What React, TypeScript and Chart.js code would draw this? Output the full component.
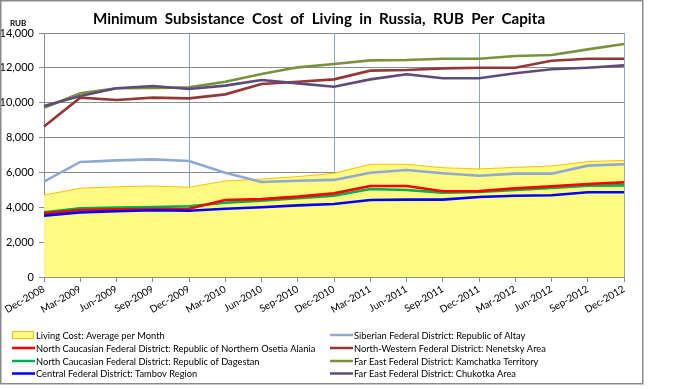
import React, { useEffect, useRef } from "react";
import { Chart, registerables } from "chart.js";

Chart.register(...registerables);

const categories = [
  "Dec-2008", "Mar-2009", "Jun-2009", "Sep-2009", "Dec-2009", "Mar-2010", "Jun-2010", "Sep-2010",
  "Dec-2010", "Mar-2011", "Jun-2011", "Sep-2011", "Dec-2011", "Mar-2012", "Jun-2012", "Sep-2012", "Dec-2012",
];

const livingCost = [4700, 5090, 5180, 5220, 5150, 5510, 5620, 5760, 5950, 6470, 6470, 6270, 6200, 6290, 6370, 6620, 6690];
const altay = [5470, 6600, 6690, 6750, 6660, 5980, 5450, 5520, 5570, 5980, 6140, 5950, 5810, 5930, 5930, 6390, 6470];
const osetia = [3650, 3840, 3880, 3900, 3920, 4420, 4470, 4610, 4800, 5220, 5220, 4920, 4930, 5090, 5200, 5340, 5430];
const nenetsky = [8630, 10290, 10160, 10290, 10250, 10480, 11070, 11200, 11340, 11840, 11880, 11970, 12010, 12010, 12410, 12520, 12520];
const dagestan = [3710, 3940, 3980, 4020, 4060, 4260, 4380, 4520, 4660, 5050, 4990, 4840, 4880, 4990, 5110, 5240, 5260];
const kamchatka = [9710, 10540, 10830, 10840, 10880, 11200, 11650, 12030, 12220, 12430, 12450, 12520, 12520, 12680, 12740, 13060, 13370];
const tambov = [3520, 3710, 3770, 3830, 3800, 3920, 4000, 4110, 4190, 4420, 4440, 4440, 4590, 4660, 4690, 4860, 4860];
const chukotka = [9810, 10380, 10830, 10960, 10790, 10980, 11300, 11110, 10920, 11340, 11630, 11400, 11400, 11690, 11920, 12010, 12140];

const yTicks = [0, 2000, 4000, 6000, 8000, 10000, 12000, 14000];

const titleText = "Minimum  Subsistance  Cost  of  Living  in  Russia,  RUB  Per  Capita";
const yUnit = "RUB";

const seriesNames = [
  "Living Cost: Average per Month",
  "Siberian Federal District: Republic of Altay",
  "North Caucasian Federal District: Republic of Northern Osetia Alania",
  "North-Western Federal District: Nenetsky Area",
  "North Caucasian Federal District: Republic of Dagestan",
  "Far East Federal District: Kamchatka Territory",
  "Central Federal District: Tambov Region",
  "Far East Federal District: Chukotka Area",
];

const COLORS = {
  area: "#FFFB82",
  areaBorder: "#FFC000",
  altay: "#8EA9D6",
  osetia: "#FF0000",
  nenetsky: "#953735",
  dagestan: "#00B050",
  kamchatka: "#77933C",
  tambov: "#0000FF",
  chukotka: "#604A7B",
};

const FONT = "Lato, 'Liberation Sans', sans-serif";

const decorPlugin = {
  id: "decor",
  afterDraw(chart: any) {
    const ctx = chart.ctx as CanvasRenderingContext2D;
    ctx.save();
    // outer border
    ctx.strokeStyle = "#8a8a8a";
    ctx.lineWidth = 1.5;
    ctx.strokeRect(0.75, 0.75, 642, 383);
    // title
    ctx.fillStyle = "#000";
    ctx.font = `bold 15.2px ${FONT}`;
    ctx.textAlign = "center";
    ctx.textBaseline = "alphabetic";
    ctx.fillText(titleText, 319, 24);
    // unit
    ctx.font = `bold 8px ${FONT}`;
    ctx.textAlign = "left";
    ctx.fillText(yUnit, 10, 26);
    // legend
    const ds = chart.data.datasets;
    const rowsY = [335, 348, 361, 373.5];
    ctx.font = `9.3px ${FONT}`;
    ctx.textBaseline = "middle";
    for (let i = 0; i < ds.length; i++) {
      const col = i % 2;
      const row = Math.floor(i / 2);
      const y = rowsY[row];
      const x0 = col === 0 ? 12 : 330;
      const x1 = col === 0 ? 35 : 353;
      if (ds[i].fill) {
        ctx.fillStyle = ds[i].backgroundColor;
        ctx.fillRect(x0 + 0.5, y - 4, x1 - x0 - 2, 8);
        ctx.strokeStyle = ds[i].borderColor;
        ctx.lineWidth = 1;
        ctx.strokeRect(x0 + 0.5, y - 3.5, x1 - x0 - 2, 7);
      } else {
        ctx.strokeStyle = ds[i].borderColor;
        ctx.lineWidth = 2.5;
        ctx.beginPath();
        ctx.moveTo(x0, y);
        ctx.lineTo(x1, y);
        ctx.stroke();
      }
      ctx.fillStyle = "#000";
      ctx.fillText(ds[i].label, x1 + 1, y + 0.5);
    }
    ctx.restore();
  },
};

export default function App() {
  const ref = useRef<HTMLCanvasElement | null>(null);

  useEffect(() => {
    if (!ref.current) return;
    const line = (label: string, data: number[], color: string, order: number) => ({
      label,
      data,
      borderColor: color,
      backgroundColor: color,
      borderWidth: 2.6,
      pointRadius: 0,
      tension: 0,
      fill: false,
      order,
    });
    const chart = new Chart(ref.current, {
      type: "line",
      data: {
        labels: categories,
        datasets: [
          {
            label: seriesNames[0],
            data: livingCost,
            borderColor: COLORS.areaBorder,
            backgroundColor: COLORS.area,
            borderWidth: 1,
            pointRadius: 0,
            fill: "origin",
            order: 10,
          },
          line(seriesNames[1], altay, COLORS.altay, 5),
          line(seriesNames[2], osetia, COLORS.osetia, 2),
          line(seriesNames[3], nenetsky, COLORS.nenetsky, 4),
          line(seriesNames[4], dagestan, COLORS.dagestan, 3),
          line(seriesNames[5], kamchatka, COLORS.kamchatka, 4),
          line(seriesNames[6], tambov, COLORS.tambov, 1),
          line(seriesNames[7], chukotka, COLORS.chukotka, 3),
        ] as any,
      },
      options: {
        responsive: false,
        animation: false,
        devicePixelRatio: 1,
        layout: { padding: { top: 33, right: 69, left: 0, bottom: 0 } },
        plugins: {
          legend: { display: false },
          title: { display: false },
          tooltip: { enabled: false },
        },
        scales: {
          x: {
            offset: false,
            afterFit: (s: any) => {
              s.height = 112;
            },
            grid: {
              color: (c: any) => {
                const i = c.index;
                return i > 0 && i % 4 === 0 ? "#86A6D4" : "rgba(0,0,0,0)";
              },
              lineWidth: 1,
              drawTicks: true,
              tickLength: 5,
              tickColor: "#8c8c8c",
            },
            border: { display: true, color: "#8c8c8c", width: 1 },
            ticks: {
              autoSkip: false,
              minRotation: 30,
              maxRotation: 30,
              padding: 1,
              color: "#000",
              font: { family: FONT, size: 10 },
            },
          },
          y: {
            min: 0,
            max: 14000,
            afterFit: (s: any) => {
              s.width = 44;
            },
            afterBuildTicks: (s: any) => {
              s.ticks = yTicks.map((v) => ({ value: v }));
            },
            grid: {
              color: "#8c8c8c",
              lineWidth: 1,
              drawTicks: true,
              tickLength: 5,
              tickColor: "#8c8c8c",
            },
            border: { display: true, color: "#8c8c8c", width: 1 },
            ticks: {
              padding: 5,
              color: "#000",
              font: { family: FONT, size: 11 },
              callback: (v: any) => Number(v).toLocaleString("en-US"),
            },
          },
        },
      },
      plugins: [decorPlugin],
    });
    return () => chart.destroy();
  }, []);

  return (
    <div style={{ position: "fixed", left: 0, top: 0, width: 693, height: 389, background: "#fff" }}>
      <canvas ref={ref} width={693} height={389} style={{ display: "block", width: 693, height: 389 }} />
    </div>
  );
}
